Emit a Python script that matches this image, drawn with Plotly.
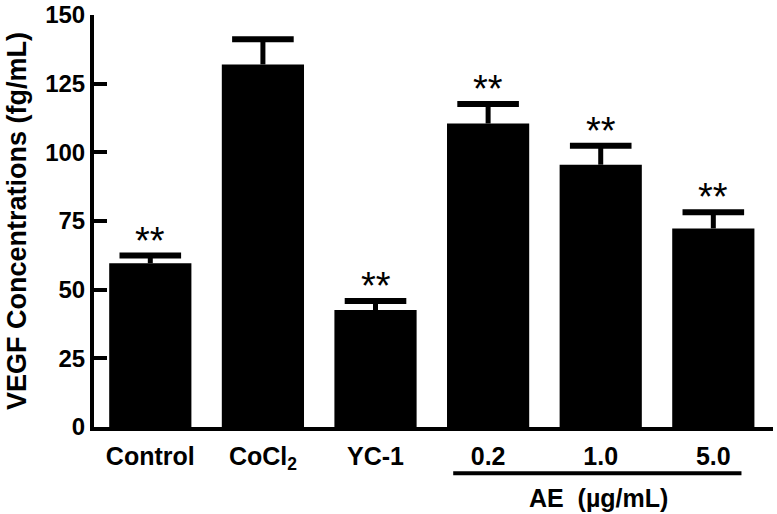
import plotly.graph_objects as go

categories = ["Control", "CoCl<sub>2</sub>", "YC-1", "0.2", "1.0", "5.0"]
means = [59.6, 132.0, 42.6, 110.5, 95.5, 72.3]
errors = [2.8, 9.2, 3.3, 7.1, 6.9, 5.9]
significance = ["**", "", "**", "**", "**", "**"]
y_ticks = [0, 25, 50, 75, 100, 125, 150]
group_label = "AE\u00a0\u00a0(µg/mL)"
y_title = "VEGF Concentrations (fg/mL)"

FONT = "Liberation Sans, Arial, sans-serif"
xs = list(range(len(categories)))
tops = [m + e for m, e in zip(means, errors)]

fig = go.Figure()
fig.add_trace(go.Bar(
    x=xs, y=means,
    marker=dict(color="black", line=dict(width=0)),
    width=0.73,
    error_y=dict(type="data", symmetric=False, array=errors,
                 arrayminus=[0] * len(errors),
                 color="black", thickness=5, width=0),
    showlegend=False,
))
# error bar caps
fig.add_trace(go.Scatter(
    x=xs, y=tops, mode="markers",
    marker=dict(symbol="line-ew", size=44, color="black",
                line=dict(color="black", width=6)),
    showlegend=False, hoverinfo="skip",
))

for i, (t, s) in enumerate(zip(tops, significance)):
    if s:
        fig.add_annotation(x=i, y=t, text=s, showarrow=False,
                           xref="x", yref="y", yanchor="bottom", yshift=-8,
                           font=dict(family=FONT, size=38, color="black"))

# group bracket line under AE concentrations
fig.add_shape(type="line", xref="x", yref="paper",
              x0=3 - 0.31, x1=5 + 0.25, y0=-0.112, y1=-0.112,
              line=dict(color="black", width=4))
fig.add_annotation(x=3.98, y=-0.172, xref="x", yref="paper",
                   text="<b>%s</b>" % group_label,
                   showarrow=False, yanchor="middle",
                   font=dict(family=FONT, size=25, color="black"))

fig.update_layout(
    width=777, height=514,
    margin=dict(l=94, r=4, t=15, b=87),
    plot_bgcolor="white", paper_bgcolor="white",
    font=dict(family=FONT, color="black"),
    xaxis=dict(
        range=[-0.5, 5.53], automargin=False,
        tickmode="array", tickvals=xs,
        ticktext=["<b>%s</b>" % c for c in categories],
        tickfont=dict(family=FONT, size=25, color="black"),
        ticklabelstandoff=4,
        showline=True, linecolor="black", linewidth=4,
        ticks="", showgrid=False, zeroline=False,
    ),
    yaxis=dict(
        range=[0, 150], automargin=False,
        tickmode="array", tickvals=y_ticks,
        ticktext=["<b>%d</b>" % v for v in y_ticks],
        tickfont=dict(family=FONT, size=24, color="black"),
        showline=True, linecolor="black", linewidth=4,
        ticks="inside", ticklen=13, tickwidth=4, tickcolor="black",
        showgrid=False, zeroline=False,
        title=dict(text="<b>%s</b>" % y_title, standoff=12,
                   font=dict(family=FONT, size=27, color="black")),
    ),
)

fig.write_html("out.html", config={"displayModeBar": False},
               post_script="document.body.style.margin='0';document.body.style.overflow='hidden';")
